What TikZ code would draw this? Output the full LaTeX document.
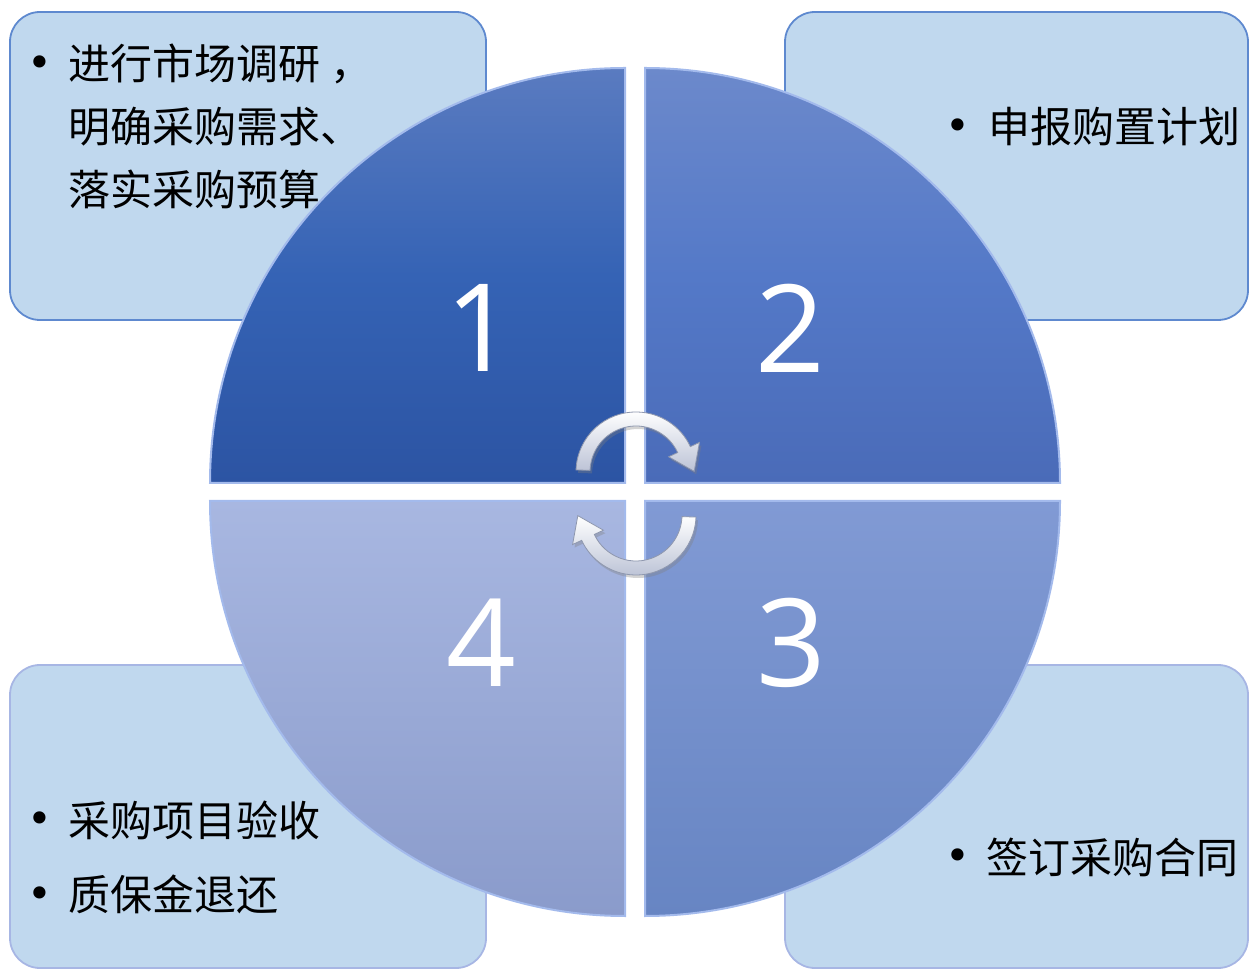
\documentclass[tikz,border=0pt]{standalone}
\usepackage{fontspec}
\newfontfamily\cjk{Noto Sans CJK SC}
\newfontfamily\numfont{Open Sans}
\newfontfamily\symfont{DejaVu Sans}
\usetikzlibrary{calc,shadows}
\definecolor{boxfill}{HTML}{C0D8EE}
\definecolor{boxlineT}{HTML}{5E89CF}
\definecolor{boxlineB}{HTML}{A7B6E4}
\definecolor{qatop}{HTML}{5A7BC0}
\definecolor{qamid}{HTML}{3563B5}
\definecolor{qabot}{HTML}{2C54A3}
\definecolor{qbtop}{HTML}{6C89CB}
\definecolor{qbmid}{HTML}{5479C8}
\definecolor{qbbot}{HTML}{4A6BB8}
\definecolor{qctop}{HTML}{819AD4}
\definecolor{qcbot}{HTML}{6785C3}
\definecolor{qdtop}{HTML}{A8B7E1}
\definecolor{qdbot}{HTML}{8A9BCB}
\definecolor{edgehi}{HTML}{A3BAEC}
\definecolor{arrowgray}{HTML}{BCC3D6}
\definecolor{arrowedge}{HTML}{8E97AE}
\begin{document}
\begin{tikzpicture}[x=1pt,y=1pt,
  boxT/.style={rounded corners=30pt, fill=boxfill, draw=boxlineT, line width=1.8pt},
  boxB/.style={rounded corners=30pt, fill=boxfill, draw=boxlineB, line width=1.8pt},
  txt/.style={font=\cjk\fontsize{42}{63}\selectfont, anchor=base west, inner sep=0pt, text=black},
  bul/.style={font=\symfont\fontsize{42}{42}\selectfont, inner sep=0pt, text=black},
  num/.style={font=\numfont\fontsize{122}{122}\selectfont, text=white, inner sep=0pt},
  quad/.style={draw=edgehi, line width=2pt},
  arrowsty/.style={top color=white, bottom color=arrowgray, draw=arrowedge, line width=0.8pt,
    drop shadow={opacity=0.35, shadow xshift=2pt, shadow yshift=-3pt}},
]
\useasboundingbox (0,0) rectangle (1249,969);
\clip (0,0) rectangle (1249,969);

% boxes
\draw[boxT] (10,649) rectangle (486,957);
\draw[boxT] (785,649) rectangle (1248,957);
\draw[boxB] (10,1) rectangle (486,304);
\draw[boxB] (785,1) rectangle (1248,304);

% texts
\node[bul] (b1) at (40,902) {•};
\node[txt] (t1a) at (68,889) {进行市场调研\hspace{10pt}，};
\node[txt] (t1b) at (68,826) {明确采购需求、};
\node[txt] (t1c) at (68,763) {落实采购预算};

\node[bul] (b2) at (958,839) {•};
\node[txt] (t2) at (988,826) {申报购置计划};

\node[bul] (b3) at (958,109) {•};
\node[txt] (t3) at (986,96) {签订采购合同};

\node[bul] (b4a) at (40,146) {•};
\node[txt] (t4a) at (68,133) {采购项目验收};
\node[bul] (b4b) at (40,71) {•};
\node[txt] (t4b) at (68,59) {质保金退还};

% quadrants
\shade[quad, top color=qatop, bottom color=qabot, middle color=qamid]
  (625,486) -- (210,486) arc[start angle=180, end angle=90, radius=415] -- cycle;
\shade[quad, top color=qbtop, bottom color=qbbot, middle color=qbmid]
  (645,486) -- (645,901) arc[start angle=90, end angle=0, radius=415] -- cycle;
\shade[quad, top color=qctop, bottom color=qcbot]
  (645,468) -- (1060,468) arc[start angle=0, end angle=-90, radius=415] -- cycle;
\shade[quad, top color=qdtop, bottom color=qdbot]
  (625,468) -- (625,53) arc[start angle=-90, end angle=-180, radius=415] -- cycle;

% numbers
\node[num] (n1) at (480,641) {1};
\node[num] (n2) at (790,641) {2};
\node[num] (n3) at (791,326) {3};
\node[num] (n4) at (481,326) {4};

% cycle arrows
\coordinate (C) at (636,497);
\coordinate (D) at (636,454);
\shade[arrowsty]
  ($(C)+(178:60)$) arc[start angle=178, end angle=25, radius=60]
  -- ($(C)+(25:70)$) -- ($(C)+(25:53)+(-65:24)$) -- ($(C)+(25:36)$)
  -- ($(C)+(25:46)$) arc[start angle=25, end angle=178, radius=46] -- cycle;
\shade[arrowsty]
  ($(D)+(-2:60)$) arc[start angle=-2, end angle=-155, radius=60]
  -- ($(D)+(-155:70)$) -- ($(D)+(-155:53)+(115:24)$) -- ($(D)+(-155:36)$)
  -- ($(D)+(-155:46)$) arc[start angle=-155, end angle=-2, radius=46] -- cycle;
\end{tikzpicture}
\end{document}
